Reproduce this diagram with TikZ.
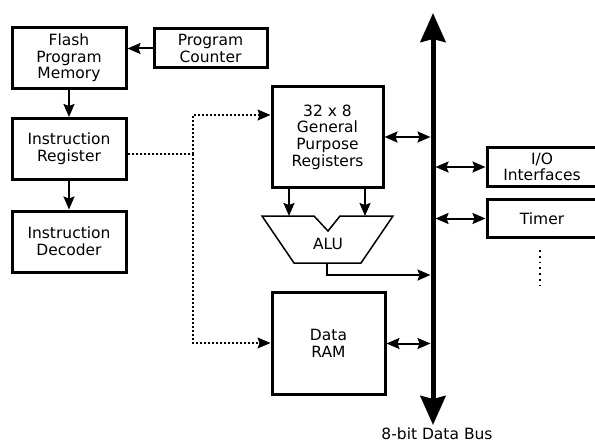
\documentclass[tikz,border=0pt]{standalone}
\usepackage{fontspec}
\setmainfont{DejaVu Sans}
\usetikzlibrary{arrows.meta}
\begin{document}
\begin{tikzpicture}[x=1pt,y=-1pt,
  lbl/.style={font=\fontsize{15.5}{16.7}\selectfont},
  blk/.style={draw,line width=3pt,align=center,inner sep=0pt,lbl},
  tip/.style={-{Stealth[length=13pt,width=11pt,inset=2pt]}},
  conn/.style={line width=2pt,tip},
  biconn/.style={line width=2pt,{Stealth[length=13pt,width=11pt,inset=2pt]}-{Stealth[length=13pt,width=11pt,inset=2pt]}},
  dotconn/.style={line width=2pt,dash pattern=on 2pt off 2pt},
  busline/.style={line width=5pt,{Stealth[length=29pt,width=25pt,inset=3pt]}-{Stealth[length=29pt,width=25pt,inset=3pt]}}]
\useasboundingbox (0,0) rectangle (595,444);
% blocks
\node[blk,minimum width=114pt,minimum height=61pt] (flash) at (69,58) {Flash\\Program\\Memory};
\node[blk,minimum width=113pt,minimum height=39pt] (pc) at (210.5,48.5) {Program\\Counter};
\node[blk,minimum width=114pt,minimum height=61pt] (ir) at (69,149) {Instruction\\Register};
\node[blk,minimum width=114pt,minimum height=61pt] (id) at (69,241.5) {Instruction\\Decoder};
\node[blk,minimum width=111pt,minimum height=101pt] (gpr) at (327.5,137) {32 x 8\\General\\Purpose\\Registers};
\node[blk,minimum width=113pt,minimum height=102pt] (ram) at (328.5,343.5) {Data\\RAM};
\node[blk,minimum width=110pt,minimum height=39pt] (io) at (542,167) {I/O\\Interfaces};
\node[blk,minimum width=110pt,minimum height=38pt] (timer) at (542,218.5) {Timer};
% ALU
\draw[line width=1.5pt,line join=miter] (262,216) -- (314,216) -- (328,231) -- (340,216) -- (393,216) -- (361,263) -- (294,263) -- cycle;
\node[lbl] (alu) at (328,244) {ALU};
\coordinate (alua) at (289,216);
\coordinate (alub) at (365,216);
\coordinate (aluout) at (327,263);
% bus
\coordinate (bustop) at (433,13);
\coordinate (busbot) at (433,425);
\draw[busline] (busbot) -- (bustop);
\coordinate (busL) at (430.5,0);
\coordinate (busR) at (435.5,0);
\node[lbl] (buslbl) at (437,434) {8-bit Data Bus};
% connectors
\draw[conn] (pc.west) -- (flash.east |- pc.west);
\draw[conn] (flash.south) -- (ir.north);
\draw[conn] (ir.south) -- (id.north);
\draw[conn] (gpr.south -| alua) -- (alua);
\draw[conn] (gpr.south -| alub) -- (alub);
\draw[conn] (aluout) |- (busL |- 0,275);
\draw[biconn] (gpr.east) -- (busL |- gpr.east);
\draw[biconn] (ram.east) -- (busL |- ram.east);
\draw[biconn] (busR |- io.west) -- (io.west);
\draw[biconn] (busR |- timer.west) -- (timer.west);
% dotted control lines
\coordinate (dj) at (193,154);
\draw[dotconn] ([yshift=-5pt]ir.east) -- (dj);
\draw[dotconn] (dj) |- (260,115);
\draw[dotconn] (dj) |- (260,343);
\draw[line width=1pt,tip] (259,115) -- (gpr.west |- 0,115);
\draw[line width=1pt,tip] (259,343) -- (ram.west |- 0,343);
% more peripherals dots
\coordinate (dtop) at (540,250);
\coordinate (dbot) at (540,286);
\draw[line width=1.8pt,dash pattern=on 1.8pt off 4pt] (dtop) -- (dbot);
\end{tikzpicture}
\end{document}
